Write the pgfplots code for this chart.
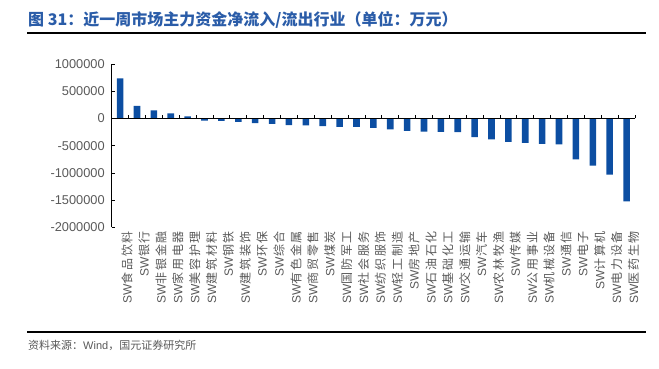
\documentclass[border=0pt]{standalone}
\usepackage{pgfplots}
\pgfplotsset{compat=1.18}
\usepackage{pgfplotstable}
\usepackage{fontspec}
\setmainfont{Liberation Sans}
\newfontfamily\cjk{Noto Sans CJK SC}
\newfontfamily\cjkl[LetterSpace=14]{Noto Sans CJK SC}
\definecolor{barblue}{HTML}{0C4EA2}
\definecolor{titleblue}{HTML}{2A5CA8}
\definecolor{txtgray}{HTML}{595959}
\pgfplotstableread{
x y
0 734000
1 233000
2 147000
3 92000
4 37000
5 -37000
6 -43000
7 -61000
8 -86000
9 -98000
10 -122000
11 -128000
12 -141000
13 -153000
14 -153000
15 -170000
16 -200000
17 -226000
18 -239000
19 -245000
20 -251000
21 -343000
22 -385000
23 -428000
24 -446000
25 -465000
26 -477000
27 -749000
28 -866000
29 -1031000
30 -1519000
}\flows
\newcommand\sw[1]{SW{\cjkl #1}}
\begin{document}
\begin{tikzpicture}[x=1pt,y=1pt]
\path[use as bounding box] (0,0) rectangle (659,369);
\node[anchor=base west, text=titleblue, font=\cjk\bfseries\fontsize{16}{19}\selectfont, inner sep=0] at (28,343.5) {图 31：近一周市场主力资金净流入/流出行业（单位：万元）};
\draw[line width=1.6pt] (27,336) -- (646,336);
\draw[line width=1.6pt] (27,37) -- (646,37);
\node[anchor=base west, text=txtgray, font=\fontsize{11}{13}\selectfont, inner sep=0] at (28,19) {{\cjk 资料来源：}Wind{\cjk ，国元证券研究所}};
\begin{axis}[
  at={(111.7pt,141.5pt)}, anchor=south west, scale only axis,
  width=523.3pt, height=163.5pt,
  xmin=-0.5, xmax=30.5, ymin=-2000000, ymax=1000000,
  axis y line*=left, axis x line*=bottom,
  x axis line style={draw=none},
  y axis line style={line width=0.9pt, black, -},
  ytick={-2000000,-1500000,...,1000000},
  scaled y ticks=false,
  /pgf/number format/fixed,
  /pgf/number format/1000 sep={},
  /pgf/number format/assume math mode=true,
  yticklabel style={text=txtgray, font=\fontsize{12.8}{15}\selectfont, xshift=-3.5pt},
  ytick style={line width=0.9pt, black},
  tick align=inside, major tick length=3.5pt,
  xtick={0,...,30},
  xtick style={draw=none},
  xticklabels={\sw{食品饮料},\sw{银行},\sw{非银金融},\sw{家用电器},\sw{美容护理},\sw{建筑材料},\sw{钢铁},\sw{建筑装饰},\sw{环保},\sw{综合},\sw{有色金属},\sw{商贸零售},\sw{煤炭},\sw{国防军工},\sw{社会服务},\sw{纺织服饰},\sw{轻工制造},\sw{房地产},\sw{石油石化},\sw{基础化工},\sw{交通运输},\sw{汽车},\sw{农林牧渔},\sw{传媒},\sw{公用事业},\sw{机械设备},\sw{通信},\sw{电子},\sw{计算机},\sw{电力设备},\sw{医药生物}},
  xticklabel style={rotate=90, anchor=east, text=txtgray, font=\fontsize{12}{14}\selectfont, yshift=-7pt},
  enlargelimits=false,
  clip=false,
]
\addplot[ybar, bar width=6.6pt, fill=barblue, draw=none] table[x=x,y=y]{\flows};
\draw[line width=0.9pt, black] (axis cs:-0.5,0) -- (axis cs:30.5,0);
\pgfplotsinvokeforeach{-0.5,0.5,...,30.5}{\draw[line width=0.8pt, black] (axis cs:#1,0) -- ([yshift=3.3pt]axis cs:#1,0);}
\end{axis}
\end{tikzpicture}
\end{document}
